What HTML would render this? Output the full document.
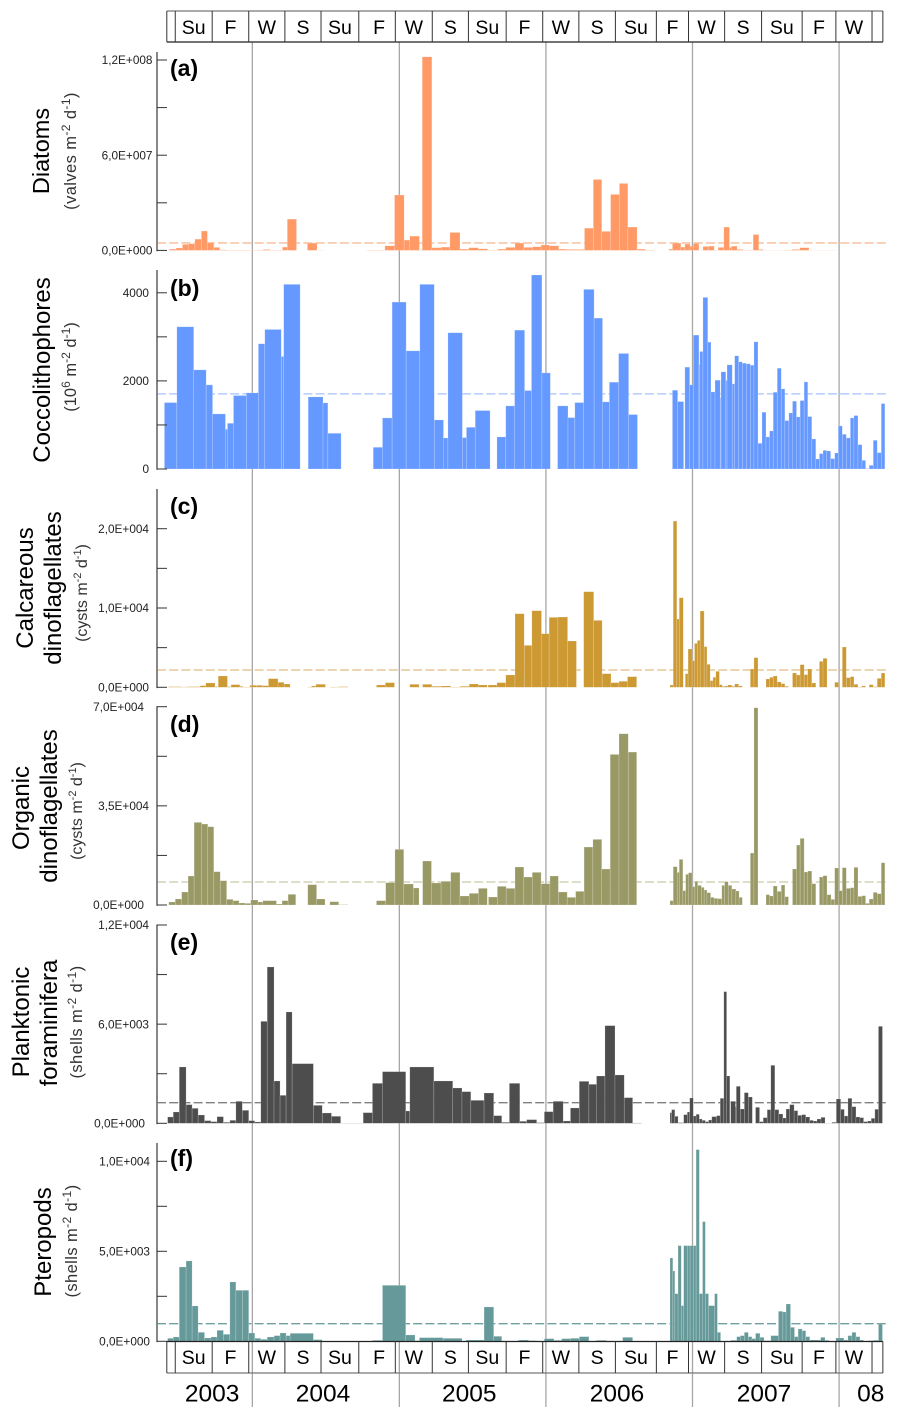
<!DOCTYPE html>
<html lang="en">
<head>
<meta charset="utf-8">
<title>Flux time series</title>
<style>
html,body{margin:0;padding:0;background:#fff;}
svg{display:block;font-family:"Liberation Sans",Arial,sans-serif;}
</style>
</head>
<body>
<svg id="chart" xmlns="http://www.w3.org/2000/svg" width="903" height="1416" viewBox="0 0 903 1416">
<rect x="0" y="0" width="903" height="1416" fill="#fff"/>
<g id="year-lines"></g>
<g id="panels"></g>
<g id="seasons"></g>
<g id="years"></g>

<g fill="#000">
<text transform="translate(49,151) rotate(-90)" text-anchor="middle" font-size="23.5">Diatoms</text>
<text transform="translate(76,151) rotate(-90)" text-anchor="middle" font-size="16.5" letter-spacing="0.4" fill="#333">(valves m<tspan dy="-6" font-size="12">-2</tspan><tspan dy="6"> d</tspan><tspan dy="-6" font-size="12">-1</tspan><tspan dy="6">)</tspan></text>

<text transform="translate(50,370) rotate(-90)" text-anchor="middle" font-size="24">Coccolithophores</text>
<text transform="translate(76,367) rotate(-90)" text-anchor="middle" font-size="16.5" fill="#333">(10<tspan dy="-6" font-size="12">6</tspan><tspan dy="6"> m</tspan><tspan dy="-6" font-size="12">-2</tspan><tspan dy="6"> d</tspan><tspan dy="-6" font-size="12">-1</tspan><tspan dy="6">)</tspan></text>

<text transform="translate(33,588) rotate(-90)" text-anchor="middle" font-size="24">Calcareous</text>
<text transform="translate(61,588) rotate(-90)" text-anchor="middle" font-size="24">dinoflagellates</text>
<text transform="translate(87,593) rotate(-90)" text-anchor="middle" font-size="16" fill="#333">(cysts m<tspan dy="-6" font-size="11">-2</tspan><tspan dy="6"> d</tspan><tspan dy="-6" font-size="11">-1</tspan><tspan dy="6">)</tspan></text>

<text transform="translate(29,808) rotate(-90)" text-anchor="middle" font-size="24">Organic</text>
<text transform="translate(57,806) rotate(-90)" text-anchor="middle" font-size="24">dinoflagellates</text>
<text transform="translate(82,811) rotate(-90)" text-anchor="middle" font-size="16" fill="#333">(cysts m<tspan dy="-6" font-size="11">-2</tspan><tspan dy="6"> d</tspan><tspan dy="-6" font-size="11">-1</tspan><tspan dy="6">)</tspan></text>

<text transform="translate(29,1022) rotate(-90)" text-anchor="middle" font-size="24">Planktonic</text>
<text transform="translate(57,1023) rotate(-90)" text-anchor="middle" font-size="24">foraminifera</text>
<text transform="translate(82,1022) rotate(-90)" text-anchor="middle" font-size="16.5" letter-spacing="0.4" fill="#333">(shells m<tspan dy="-6" font-size="12">-2</tspan><tspan dy="6"> d</tspan><tspan dy="-6" font-size="12">-1</tspan><tspan dy="6">)</tspan></text>

<text transform="translate(51,1242) rotate(-90)" text-anchor="middle" font-size="24">Pteropods</text>
<text transform="translate(77,1241) rotate(-90)" text-anchor="middle" font-size="16.5" letter-spacing="0.4" fill="#333">(shells m<tspan dy="-6" font-size="12">-2</tspan><tspan dy="6"> d</tspan><tspan dy="-6" font-size="12">-1</tspan><tspan dy="6">)</tspan></text>
</g>
</svg>

<script>
// Time is expressed in days since the start of the record (late May 2003).
const yearBoundaryDays = [220, 586, 951, 1316, 1681];
const yearNames = ["2003", "2004", "2005", "2006", "2007", "08"];
const yearLabelDays = [120, 396, 760, 1128, 1494, 1760];
const seasonEdgeDays = [7,28,120,211,301,391,485,576,668,758,852,943,1033,1124,1226,1306,1396,1488,1589,1673,1763,1790];
const seasonNames = ["","Su","F","W","S","Su","F","W","S","Su","F","W","S","Su","F","W","S","Su","F","W",""];

// (a) Diatoms, millions of valves m-2 d-1
const diatomEdges = [13,30,46,61,77,93,108,124,139,156,173,247,264,295,307,330,357,381,401,505,550,574,598,612,636,643,667,691,712,737,759,783,806,831,851,874,896,918,939,960,983,1003,1047,1069,1090,1112,1134,1155,1178,1199,1221,1257,1266,1287,1297,1310,1318,1332,1342,1356,1370,1380,1394,1408,1413,1427,1442,1451,1467,1481,1492,1542,1563,1583,1606,1675];
const diatomValues = [0.8,1.5,3.8,4.2,7.1,12.2,4.8,1.9,0.4,0.2,0.2,0.6,0.2,2.1,19.7,null,4.6,0.1,null,0.2,2.9,34.9,6.5,9,0.2,122,1.7,2.1,11.3,0.8,1.7,1,0.2,0.8,1.9,4.6,1.9,2.3,3.4,2.9,0.8,0.6,14,44.7,12,35.3,42.2,14.7,0.8,0.2,null,0.8,4.6,2.1,4,2.7,4.4,0.1,2.5,2.7,0.2,1.9,14.7,1.9,2.7,0.6,0.2,0.2,10,0.6,0.1,0.2,0.6,1.7,0.1];
const diatomTicks = [0,30,60,90,120];
const diatomTickLabels = ["0,0E+000","","6,0E+007","","1,2E+008"];
const diatomMean = [4.7];

// (b) Coccolithophores, 10^6 m-2 d-1
const coccoEdges = [1,32,74,105,121,153,158,173,205,235,251,292,298,339,359,396,408,441,521,544,568,603,637,673,696,707,743,753,775,812,829,851,873,898,915,941,962,980,1006,1023,1045,1071,1092,1109,1132,1157,1179,1266,1279,1294,1297,1309,1318,1332,1334,1342,1354,1362,1372,1385,1387,1399,1402,1415,1421,1431,1440,1450,1460,1469,1479,1489,1499,1508,1517,1527,1537,1546,1556,1565,1575,1584,1594,1603,1613,1623,1632,1641,1650,1660,1670,1679,1689,1699,1709,1718,1728,1738,1747,1756,1766,1776,1786,1795];
const coccoValues = [1508,3229,2251,1910,1251,902,1038,1668,1728,2843,3168,2554,4192,null,1637,1501,811,null,493,1160,3790,2683,4192,1114,705,3093,713,947,1327,null,728,1433,3153,1781,4404,2183,null,1433,1167,1508,4078,3426,1524,1971,2623,1236,null,1789,1531,null,2312,1910,3040,2365,2668,3896,2880,1751,2016,1622,2206,2009,2365,1933,2570,2433,2403,2388,2357,2888,584,1289,728,864,1743,2289,1819,1099,1273,1539,1182,1554,1978,1190,682,227,349,424,409,235,364,978,788,705,1160,1213,553,197,8,83,652,371,1486];
const coccoTicks = [0,1000,2000,3000,4000];
const coccoTickLabels = ["0","","2000","","4000"];
const coccoMean = [1705];

// (c) Calcareous dinoflagellates, cysts m-2 d-1
const calcEdges = [11,27,42,58,74,90,104,127,135,158,167,189,197,214,230,246,260,284,299,314,358,367,378,402,413,435,458,529,551,574,612,635,644,667,691,714,737,760,783,805,807,829,851,874,897,916,940,959,981,1005,1027,1045,1070,1091,1113,1133,1154,1177,1260,1268,1277,1283,1293,1298,1305,1315,1321,1328,1335,1345,1352,1360,1367,1374,1383,1390,1397,1404,1414,1421,1431,1440,1460,1469,1479,1499,1508,1517,1527,1537,1546,1555,1565,1575,1584,1594,1603,1613,1623,1632,1641,1651,1670,1680,1689,1699,1709,1718,1728,1737,1747,1756,1766,1776,1786,1795];
const calcValues = [84,84,42,84,84,210,546,84,1428,84,336,126,42,252,252,210,1092,630,420,null,42,168,378,null,42,84,null,294,588,null,378,null,378,126,168,42,126,420,294,null,294,588,1554,9282,5292,9660,6762,8820,8862,5838,null,12054,8442,1722,588,756,1344,null,294,20958,8610,11298,null,1722,4830,3360,5544,5922,9618,5124,2898,840,1260,2016,336,126,168,294,126,420,168,null,2310,3738,null,1050,1260,1428,672,462,126,null,1806,1554,2856,1596,2310,546,null,3276,3654,null,630,null,5082,1218,1344,378,42,168,null,336,84,1134,1806];
const calcTicks = [0,5000,10000,15000,20000];
const calcTickLabels = ["0,0E+000","","1,0E+004","","2,0E+004"];
const calcMean = [2180];

// (d) Organic dinoflagellates, cysts m-2 d-1
const orgEdges = [12,28,44,60,75,94,109,124,140,156,172,187,202,216,234,246,280,294,309,328,358,380,401,413,435,458,529,552,575,597,621,635,644,666,690,714,737,760,783,805,808,830,852,874,896,917,939,961,982,1004,1025,1046,1068,1090,1111,1133,1156,1177,1260,1268,1278,1283,1292,1299,1306,1315,1322,1329,1338,1345,1352,1361,1370,1379,1389,1396,1405,1414,1424,1432,1440,1460,1469,1479,1499,1508,1517,1527,1537,1546,1555,1565,1575,1584,1594,1603,1613,1623,1632,1641,1651,1661,1670,1680,1689,1699,1709,1718,1728,1738,1747,1756,1766,1776,1786,1795];
const orgValues = [1058,2117,4586,10231,29165,28577,27636,11760,8585,1999,1529,706,588,1764,1058,1529,353,1529,3763,null,7174,2117,null,1176,118,null,1529,7879,19639,7409,5998,null,15523,7762,8350,11525,3175,4116,5880,null,2822,6586,5880,13406,9878,11525,7526,10231,4586,2705,4822,20462,23167,12701,53155,60446,53978,null,1529,13524,11525,16111,5057,10819,11407,6468,8350,6938,6233,5292,4351,2705,2352,2234,6938,8232,6938,5645,4939,2705,null,18346,69619,null,3646,3175,6703,4822,7056,2940,null,12701,21168,23520,11642,11995,7526,null,9878,10349,3646,1999,13054,5057,13171,5880,6115,13289,3058,3293,588,2117,4469,3998,14935];
const orgTicks = [0,17500,35000,52500,70000];
const orgTickLabels = ["0,0E+000","","3,5E+004","","7,0E+004"];
const orgMean = [8120];

// (e) Planktonic foraminifera, shells m-2 d-1
const foramEdges = [9,23,38,55,70,85,101,117,132,148,164,179,195,211,226,241,257,274,289,304,319,372,394,417,440,496,519,544,602,612,672,719,742,764,797,821,841,860,886,903,928,947,969,994,1012,1034,1058,1077,1098,1123,1146,1167,1189,1260,1264,1272,1280,1294,1303,1309,1318,1325,1333,1340,1348,1356,1364,1376,1385,1394,1401,1409,1411,1423,1425,1435,1445,1455,1465,1473,1483,1492,1502,1511,1521,1531,1541,1549,1558,1569,1578,1588,1598,1608,1617,1626,1636,1646,1663,1674,1685,1694,1703,1713,1723,1733,1742,1752,1761,1770,1779,1789];
const foramValues = [383,686,3409,1130,908,504,161,101,403,61,182,1331,787,161,81,6172,9460,2562,1694,6737,3610,1089,625,424,10,645,2420,3126,746,3409,2562,2138,1916,1392,1835,464,61,2420,121,222,40,706,1331,141,928,2541,2360,2864,5910,2925,1553,20,null,645,827,424,40,524,686,1533,444,545,262,182,101,202,403,464,1513,7967,2864,null,1331,1008,2239,867,1856,1593,null,968,101,343,827,3510,827,565,323,867,1130,766,484,524,383,182,141,262,363,10,61,1472,847,444,1513,1008,383,343,101,141,302,847,5870];
const foramTicks = [0,3000,6000,9000,12000];
const foramTickLabels = ["0,0E+000","","6,0E+003","","1,2E+004"];
const foramMean = [1247];

// (f) Pteropods, shells m-2 d-1
const pteroEdges = [9,23,38,55,70,85,101,117,132,148,164,179,195,211,226,241,257,274,289,304,314,372,394,519,544,602,625,636,695,742,752,797,821,841,882,886,908,928,947,971,990,1012,1034,1058,1077,1102,1142,1167,1260,1267,1272,1280,1288,1294,1303,1310,1318,1325,1333,1341,1348,1356,1371,1378,1386,1411,1426,1435,1445,1455,1464,1473,1484,1494,1511,1530,1541,1549,1560,1570,1579,1589,1598,1608,1629,1635,1646,1656,1673,1693,1703,1713,1723,1733,1742,1752,1766,1779,1789];
const pteroValues = [167,241,4130,4463,1963,500,185,241,611,389,3297,2834,2834,463,167,111,241,315,463,315,444,93,null,56,3111,352,37,204,167,19,74,1908,278,19,74,74,37,19,148,56,148,167,259,19,56,19,222,null,4630,3908,2648,5315,1982,5315,5315,5315,5315,10649,2648,6649,2648,1982,2648,500,null,56,259,315,500,259,148,444,222,37,315,1667,1630,2074,778,259,685,593,259,74,74,222,56,19,185,74,315,500,259,74,19,37,56,963];
const pteroTicks = [0,2500,5000,7500,10000];
const pteroTickLabels = ["0,0E+000","","5,0E+003","","1,0E+004"];
const pteroMean = [978];

const SVG_NS = "http://www.w3.org/2000/svg";
const xScale = function (day) { return 164 + day * 0.4016; };
const X_AXIS = 157;
const X_TICK_END = 167;
const X_RIGHT = 887;

function svgEl(tag, parent) {
  const el = document.createElementNS(SVG_NS, tag);
  parent.appendChild(el);
  return el;
}

function drawPanel(p) {
  const root = document.getElementById("panels");
  const g = svgEl("g", root);
  
  
  const yScale = function (v) {
    return p.yBase - (v / p.ticks[p.ticks.length - 1]) * (p.yBase - p.yTop);
  };

  // mean dashed reference line (behind the bars)
  const mean = svgEl("line", g);
  
  
  mean.setAttribute("x1", X_AXIS);
  mean.setAttribute("x2", X_RIGHT);
  mean.setAttribute("y1", yScale(p.mean[0]));
  mean.setAttribute("y2", yScale(p.mean[0]));
  mean.setAttribute("stroke", p.dash);
  mean.setAttribute("stroke-width", p.dashWidth);
  mean.setAttribute("stroke-dasharray", "9 3.2");

  // bars
  p.values.forEach(function (v, i) {
    if (v === null) { return; }
    const bar = svgEl("rect", g);
    
    
    const x0 = xScale(p.edges[i]);
    const x1 = xScale(p.edges[i + 1]);
    const top = yScale(v);
    bar.setAttribute("x", x0);
    bar.setAttribute("y", top);
    bar.setAttribute("width", Math.max(0.1, x1 - x0));
    bar.setAttribute("height", Math.max(0.1, p.yBase - top));
    bar.setAttribute("fill", p.color);
    bar.setAttribute("stroke", "#fff");
    bar.setAttribute("stroke-opacity", "0.3");
    bar.setAttribute("stroke-width", "0.6");
  });

  // y axis
  const axis = svgEl("line", g);
  
  
  axis.setAttribute("x1", X_AXIS);
  axis.setAttribute("x2", X_AXIS);
  axis.setAttribute("y1", p.axisTop);
  axis.setAttribute("y2", p.yBase + 0.8);
  axis.setAttribute("stroke", "#7a7a7a");
  axis.setAttribute("stroke-width", "1.8");

  p.ticks.forEach(function (t, i) {
    const y = yScale(t);
    const tick = svgEl("line", g);
    
    
    tick.setAttribute("x1", X_AXIS);
    tick.setAttribute("x2", X_TICK_END);
    tick.setAttribute("y1", y);
    tick.setAttribute("y2", y);
    tick.setAttribute("stroke", "#333");
    tick.setAttribute("stroke-width", "1");
    if (p.tickLabels[i]) {
      const label = svgEl("text", g);
      
      
      label.setAttribute("x", p.labelRight[i]);
      label.setAttribute("y", y + 4.2);
      label.setAttribute("text-anchor", "end");
      label.setAttribute("font-size", "11.8");
      label.setAttribute("fill", "#222");
      label.textContent = p.tickLabels[i];
    }
  });

  const letter = svgEl("text", g);
  
  
  letter.setAttribute("x", 170);
  letter.setAttribute("y", p.letterY);
  letter.setAttribute("font-size", "23");
  letter.setAttribute("font-weight", "bold");
  letter.textContent = p.letter;
}

function drawSeasonStrip(name, yTop, yBottom, baseline) {
  const root = document.getElementById("seasons");
  const g = svgEl("g", root);
  
  
  const xStart = xScale(seasonEdgeDays[0]);
  const xEnd = xScale(seasonEdgeDays[seasonEdgeDays.length - 1]);

  const topLine = svgEl("line", g);
  
  
  topLine.setAttribute("x1", xStart);
  topLine.setAttribute("x2", xEnd);
  topLine.setAttribute("y1", yTop);
  topLine.setAttribute("y2", yTop);
  topLine.setAttribute("stroke", yTop < 100 ? "#777" : "#222");
  topLine.setAttribute("stroke-width", "1.3");

  const bottomLine = svgEl("line", g);
  
  
  bottomLine.setAttribute("x1", xStart);
  bottomLine.setAttribute("x2", xEnd);
  bottomLine.setAttribute("y1", yBottom);
  bottomLine.setAttribute("y2", yBottom);
  bottomLine.setAttribute("stroke", yTop < 100 ? "#222" : "#777");
  bottomLine.setAttribute("stroke-width", "1.3");

  seasonEdgeDays.forEach(function (d) {
    const div = svgEl("line", g);
    
    
    div.setAttribute("x1", xScale(d));
    div.setAttribute("x2", xScale(d));
    div.setAttribute("y1", yTop);
    div.setAttribute("y2", yBottom);
    div.setAttribute("stroke", "#333");
    div.setAttribute("stroke-width", "1");
  });

  seasonNames.forEach(function (s, i) {
    if (!s) { return; }
    const t = svgEl("text", g);
    
    
    t.setAttribute("x", (xScale(seasonEdgeDays[i]) + xScale(seasonEdgeDays[i + 1])) / 2 + (i === 6 ? 2 : 0));
    t.setAttribute("y", baseline);
    t.setAttribute("text-anchor", "middle");
    t.setAttribute("font-size", "19.5");
    t.textContent = s;
  });
}

// year boundary lines
yearBoundaryDays.forEach(function (d) {
  const l = svgEl("line", document.getElementById("year-lines"));
  
  
  l.setAttribute("x1", xScale(d));
  l.setAttribute("x2", xScale(d));
  l.setAttribute("y1", 42);
  l.setAttribute("y2", 1407);
  l.setAttribute("stroke", "#a6a6a6");
  l.setAttribute("stroke-width", "1.3");
});

drawPanel({ name: "diatoms", letter: "(a)", letterY: 76, edges: diatomEdges, values: diatomValues, ticks: diatomTicks, tickLabels: diatomTickLabels, mean: diatomMean, yBase: 250.4, yTop: 60, axisTop: 52, color: "#FF9966", dash: "#f8ceb4", dashWidth: 1.8, labelRight: [152.5,0,152.5,0,152.5] });
drawPanel({ name: "coccolithophores", letter: "(b)", letterY: 296, edges: coccoEdges, values: coccoValues, ticks: coccoTicks, tickLabels: coccoTickLabels, mean: coccoMean, yBase: 469, yTop: 292.8, axisTop: 270, color: "#6699FF", dash: "#a5c2fb", dashWidth: 1.3, labelRight: [149,0,149,0,149] });
drawPanel({ name: "calcareous-dinoflagellates", letter: "(c)", letterY: 514, edges: calcEdges, values: calcValues, ticks: calcTicks, tickLabels: calcTickLabels, mean: calcMean, yBase: 687.3, yTop: 528.7, axisTop: 489, color: "#CC9933", dash: "#dfbd82", dashWidth: 1.3, labelRight: [149,0,149,0,149] });
drawPanel({ name: "organic-dinoflagellates", letter: "(d)", letterY: 732, edges: orgEdges, values: orgValues, ticks: orgTicks, tickLabels: orgTickLabels, mean: orgMean, yBase: 905, yTop: 706.7, axisTop: 706.2, color: "#999966", dash: "#c9c9a6", dashWidth: 1.3, labelRight: [144,0,149,0,144] });
drawPanel({ name: "planktonic-foraminifera", letter: "(e)", letterY: 950, edges: foramEdges, values: foramValues, ticks: foramTicks, tickLabels: foramTickLabels, mean: foramMean, yBase: 1123.3, yTop: 925, axisTop: 924.5, color: "#4D4D4D", dash: "#808080", dashWidth: 1.3, labelRight: [145,0,149,0,149] });
drawPanel({ name: "pteropods", letter: "(f)", letterY: 1166, edges: pteroEdges, values: pteroValues, ticks: pteroTicks, tickLabels: pteroTickLabels, mean: pteroMean, yBase: 1341.3, yTop: 1161.3, axisTop: 1143, color: "#669999", dash: "#6f9f9f", dashWidth: 1.3, labelRight: [150,0,150,0,150] });

drawSeasonStrip("top-season-strip", 11, 42, 34);
drawSeasonStrip("bottom-season-strip", 1341.5, 1373, 1364);

yearNames.forEach(function (name, i) {
  const t = svgEl("text", document.getElementById("years"));
  
  
  t.setAttribute("x", xScale(yearLabelDays[i]));
  t.setAttribute("y", 1401.5);
  t.setAttribute("text-anchor", "middle");
  t.setAttribute("font-size", "24.5");
  t.textContent = name;
});
</script>
</body>
</html>
